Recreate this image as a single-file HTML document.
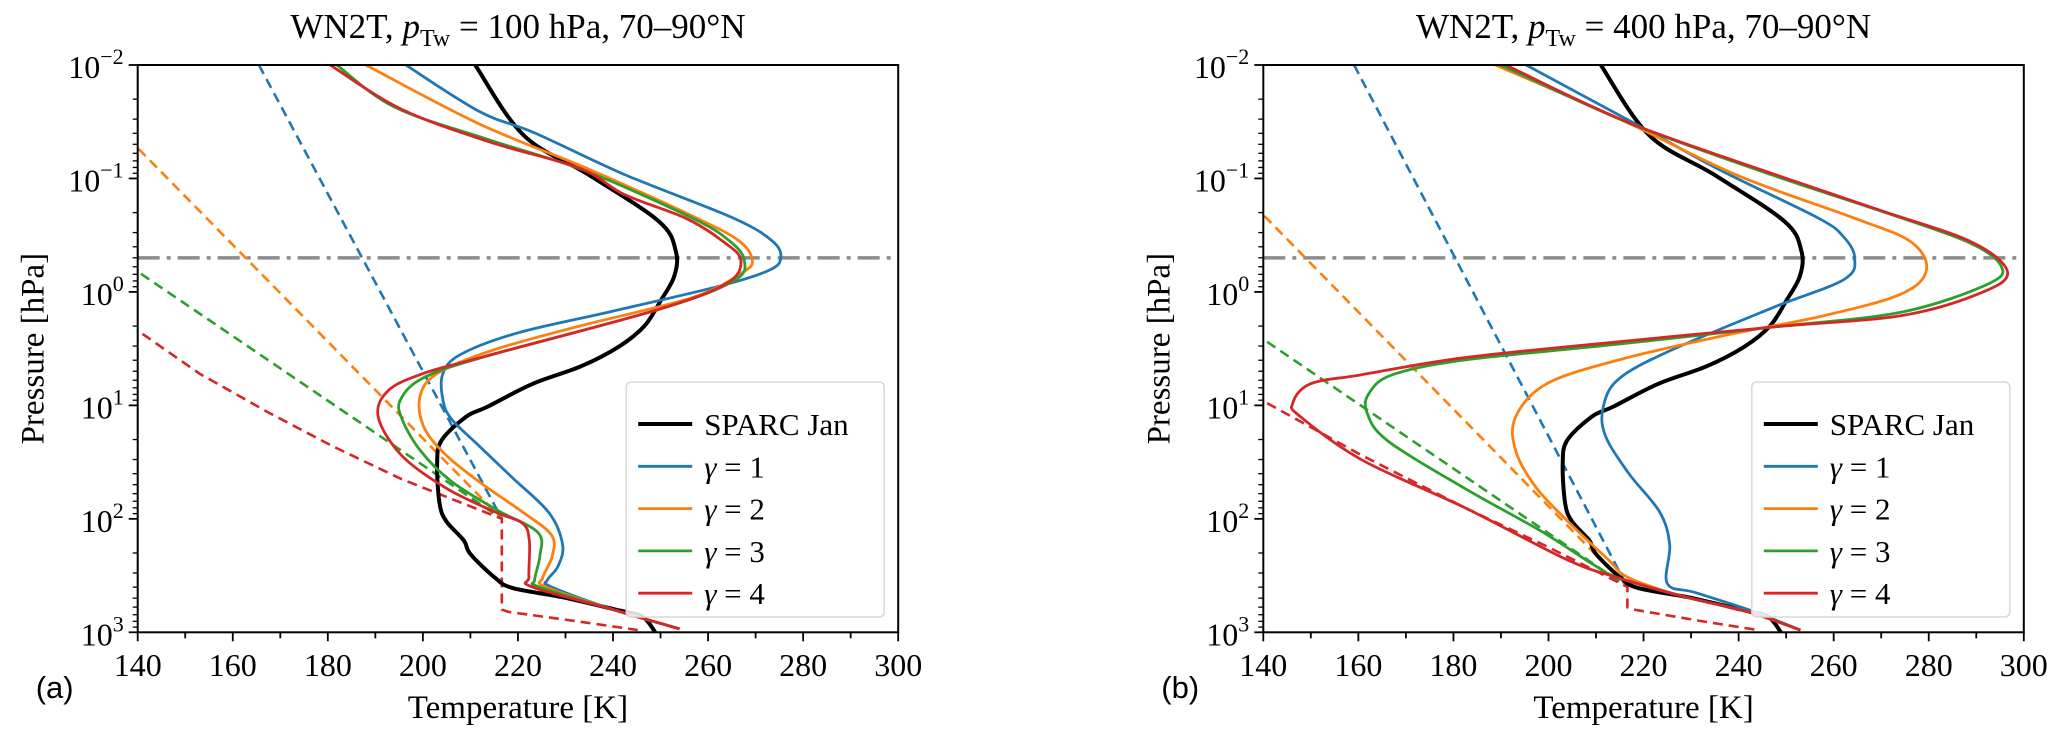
<!DOCTYPE html>
<html><head><meta charset="utf-8"><style>
html,body{margin:0;padding:0;background:#fff;}
svg{display:block;font-family:"Liberation Serif",serif;}
</style></head><body>
<svg id="chart" width="2067" height="743" viewBox="0 0 2067 743" xmlns="http://www.w3.org/2000/svg"></svg>
<script>
// ---- data: [temperature K, log10 pressure hPa] ----
const sparc = [[211,-2],[221.2,-1.38],[235,-1.03],[249.7,-0.62],[253.2,-0.36],[252.9,-0.14],[250,0.08],[246.6,0.3],[241.3,0.48],[233.3,0.655],[223.1,0.81],[213.7,1.01],[209.1,1.1],[203.9,1.31],[203,1.52],[203.5,1.86],[204.9,2.02],[208.6,2.19],[210,2.31],[215.2,2.52],[218.9,2.61],[229.2,2.69],[240.5,2.8],[246.1,2.86],[248.9,3]];
// panel a
const aG1 = [[196.4,-2],[211.9,-1.59],[223.6,-1.4],[242.7,-1.03],[265.1,-0.655],[273.5,-0.45],[275.3,-0.3],[272.8,-0.19],[262.3,-0.05],[239.9,0.17],[220,0.36],[208,0.55],[204.2,0.72],[204.2,0.95],[206,1.12],[211.9,1.36],[218.9,1.64],[226.6,1.95],[229.4,2.23],[228.4,2.42],[226.2,2.54],[227,2.6],[240,2.8],[254,2.97]];
const aG2 = [[188,-2],[211.9,-1.48],[235,-1.08],[257.4,-0.655],[266.5,-0.45],[269.3,-0.28],[267.2,-0.17],[256.7,0.05],[233,0.3],[214.2,0.52],[203,0.72],[199.4,0.92],[200.2,1.19],[204.9,1.44],[212.4,1.69],[220.3,1.92],[227,2.14],[227.2,2.33],[225.2,2.52],[225.8,2.6],[240,2.8],[254,2.97]];
const aG3 = [[181.9,-2],[194,-1.63],[214,-1.34],[234,-1.07],[256.5,-0.655],[264.5,-0.45],[267.6,-0.28],[265.5,-0.1],[250,0.15],[213,0.57],[200,0.76],[195.3,0.95],[195.6,1.12],[199.5,1.4],[206,1.67],[215.5,1.92],[224.2,2.12],[224.6,2.33],[223.5,2.54],[224.5,2.6],[240,2.8],[254,2.97]];
const aG4 = [[180.5,-2],[195.5,-1.61],[214.2,-1.32],[233,-1.09],[242.3,-0.86],[255.3,-0.65],[263,-0.45],[266.9,-0.28],[263.7,-0.07],[248.3,0.17],[212,0.58],[200,0.72],[192.7,0.87],[190.6,1.1],[195.5,1.44],[204.9,1.73],[215.2,1.94],[221,2.04],[222.4,2.2],[222.3,2.51],[223,2.6],[240,2.8],[254,2.97]];
const aD1 = [[165.5,-2],[216.6,2]];
const aD2 = [[140.2,-1.26],[216.6,2]];
const aD3 = [[140.7,-0.16],[216.6,2]];
const aD4 = [[141,0.37],[153,0.72],[167.4,1.06],[181,1.36],[195.5,1.65],[216.6,2],[216.6,2.8],[218,2.82],[232,2.9],[245.2,2.98]];
// panel b
const bG1 = [[195.3,-2],[220.1,-1.44],[236.3,-1.07],[256.8,-0.65],[262.2,-0.48],[264.4,-0.3],[262.2,-0.11],[247.1,0.14],[225.5,0.52],[214.7,0.77],[211.5,1.02],[212,1.27],[216.9,1.6],[223.4,1.94],[225.5,2.23],[225,2.57],[230.9,2.65],[242,2.8],[253,2.98]];
const bG2 = [[188.8,-2],[214.7,-1.53],[239.6,-1.03],[264.4,-0.65],[276.3,-0.44],[279.5,-0.19],[274.1,0.02],[257.9,0.21],[236.3,0.39],[214.7,0.6],[199.6,0.81],[193.1,1.1],[193.1,1.4],[197.5,1.73],[205,2.06],[212.6,2.36],[216.9,2.52],[228,2.68],[242,2.82],[253,2.98]];
const bG3 = [[189.9,-2],[216.9,-1.49],[247.1,-1.03],[268.7,-0.73],[288.2,-0.44],[295.2,-0.23],[292.5,-0.07],[274.1,0.18],[247.1,0.31],[214.7,0.46],[182.3,0.6],[167.2,0.73],[162.3,0.89],[161.8,1.06],[166.1,1.31],[182.3,1.73],[198.5,2.11],[209.3,2.4],[214.7,2.52],[228,2.68],[242,2.82],[253,2.98]];
const bG4 = [[191,-2],[217,-1.49],[248,-1.03],[269,-0.73],[289,-0.44],[296.6,-0.17],[290.3,0.02],[274.1,0.21],[247.1,0.31],[214.7,0.44],[182.3,0.58],[160.7,0.73],[149.9,0.81],[146.2,0.98],[147.8,1.1],[160.7,1.48],[182.3,1.9],[203.9,2.36],[214.7,2.52],[228,2.68],[242,2.82],[253,2.98]];
const bD1 = [[159.1,-2],[216.6,2.6]];
const bD2 = [[140.2,-0.67],[216.6,2.6]];
const bD3 = [[140.8,0.44],[216.6,2.6]];
const bD4 = [[140.8,0.98],[160.7,1.44],[182.3,1.9],[200,2.25],[216.6,2.6],[216.6,2.78],[218,2.8],[232,2.9],[244,2.98]];
const xTicks = [140,160,180,200,220,240,260,280,300];
const yExps = [-2,-1,0,1,2,3];
const legendLabels = ["SPARC Jan","γ = 1","γ = 2","γ = 3","γ = 4"];
const colors = ["#000000","#1f77b4","#ff7f0e","#2ca02c","#d62728"];
const refLevel = -0.3; // log10(0.5 hPa)

const NS="http://www.w3.org/2000/svg";
const svg=document.getElementById('chart');
function mk(tag,attrs,parent){const e=document.createElementNS(NS,tag);for(const k in attrs)e.setAttribute(k,attrs[k]);(parent||svg).appendChild(e);return e;}
function smooth(p){
  let d='M'+p[0][0].toFixed(1)+','+p[0][1].toFixed(1);
  for(let i=0;i<p.length-1;i++){
    const p0=p[i-1]||p[i],p1=p[i],p2=p[i+1],p3=p[i+2]||p2;
    const c1=[p1[0]+(p2[0]-p0[0])/6,p1[1]+(p2[1]-p0[1])/6];
    const c2=[p2[0]-(p3[0]-p1[0])/6,p2[1]-(p3[1]-p1[1])/6];
    d+=' C'+c1[0].toFixed(1)+','+c1[1].toFixed(1)+' '+c2[0].toFixed(1)+','+c2[1].toFixed(1)+' '+p2[0].toFixed(1)+','+p2[1].toFixed(1);
  }
  return d;
}

function panel(x0,title,letter,solids,dashes,pname){
  const y0=65,W=760.5,H=567.3;
  const sx=t=>x0+(t-140)/160*W;
  const sy=l=>y0+(l+2)/5*H;
  const g=mk('g',{});
  
  
  const cid='clip'+pname;
  const cp=mk('clipPath',{id:cid},g);mk('rect',{x:x0,y:y0,width:W,height:H},cp);
  const plot=mk('g',{'clip-path':'url(#'+cid+')'},g);
  const rl=mk('line',{x1:x0,x2:x0+W,y1:sy(refLevel),y2:sy(refLevel),stroke:'#8c8c8c','stroke-width':3.5,'stroke-dasharray':'22,7,4,7'},plot);
  
  
  const P=a=>a.map(p=>[sx(p[0]),sy(p[1])]);
  const pts=a=>P(a).map(p=>p[0].toFixed(1)+','+p[1].toFixed(1)).join(' ');
  dashes.forEach((d,i)=>{const e=mk('polyline',{points:pts(d),fill:'none',stroke:colors[i+1],'stroke-width':2.6,'stroke-dasharray':'10,6'},plot);
    
    });
  const bl=mk('path',{d:smooth(P(sparc)),fill:'none',stroke:'#000','stroke-width':4,'stroke-linejoin':'round'},plot);
  
  
  solids.forEach((d,i)=>{const e=mk('path',{d:smooth(P(d)),fill:'none',stroke:colors[i+1],'stroke-width':2.8,'stroke-linejoin':'round'},plot);
    
    });
  mk('rect',{x:x0,y:y0,width:W,height:H,fill:'none',stroke:'#000','stroke-width':2},g);
  for(let t=140;t<=300;t+=10){const major=xTicks.includes(t);
    mk('line',{x1:sx(t),x2:sx(t),y1:y0+H,y2:y0+H+(major?9:6),stroke:'#000','stroke-width':1.8},g);}
  xTicks.forEach(t=>{const e=mk('text',{x:sx(t),y:676,'text-anchor':'middle','font-size':32},g);e.textContent=t;
    
    });
  yExps.forEach(ex=>{mk('line',{x1:x0-9,x2:x0,y1:sy(ex),y2:sy(ex),stroke:'#000','stroke-width':1.8},g);
    if(ex<3){for(let m=2;m<10;m++){const yy=sy(ex+Math.log10(m));mk('line',{x1:x0-5,x2:x0,y1:yy,y2:yy,stroke:'#000','stroke-width':1.3},g);}}
    const e=mk('text',{x:x0-14,y:sy(ex)+13,'text-anchor':'end','font-size':32},g);
    
    
    const a=mk('tspan',{},e);a.textContent='10';
    const b=mk('tspan',{dy:-14,'font-size':22},e);b.textContent=(ex<0?'−':'')+Math.abs(ex);});
  const xl=mk('text',{x:x0+W/2,y:718,'text-anchor':'middle','font-size':33},g);xl.textContent='Temperature [K]';
  
  
  const yl=mk('text',{x:0,y:0,'text-anchor':'middle','font-size':33,transform:'translate('+(x0-94)+','+(y0+H/2)+') rotate(-90)'},g);yl.textContent='Pressure [hPa]';
  
  
  const tt=mk('text',{x:x0+W/2,y:38,'text-anchor':'middle','font-size':35},g);
  
  
  let s=mk('tspan',{},tt);s.textContent='WN2T, ';
  s=mk('tspan',{'font-style':'italic'},tt);s.textContent='p';
  s=mk('tspan',{dy:8,'font-size':24},tt);s.textContent='Tw';
  s=mk('tspan',{dy:-8},tt);s.textContent=' = '+title+' hPa, 70–90°N';
  const lt=mk('text',{x:x0-102,y:698,'font-family':'Liberation Sans, sans-serif','font-size':31},g);lt.textContent='('+letter+')';
  
  
  const lx=x0+W-272, ly=382;
  const lg=mk('g',{},g);
  
  
  mk('rect',{x:lx,y:ly,width:258,height:235,rx:5,fill:'#fff','fill-opacity':0.85,stroke:'#d8d8d8','stroke-width':1.5},lg);
  legendLabels.forEach((lab,i)=>{const yy=ly+42+i*42.3;
    const en=mk('g',{},lg);
    
    
    mk('line',{x1:lx+12,x2:lx+66,y1:yy,y2:yy,stroke:colors[i],'stroke-width':i==0?4:2.8},en);
    const t=mk('text',{x:lx+78,y:yy+11,'font-size':31},en);
    if(i==0)t.textContent=lab;else{const a=mk('tspan',{'font-style':'italic'},t);a.textContent='γ';const b=mk('tspan',{},t);b.textContent=' = '+(i);}
  });
}
panel(137.7,'100','a',[aG1,aG2,aG3,aG4],[aD1,aD2,aD3,aD4],'panel-a');
panel(1263.3,'400','b',[bG1,bG2,bG3,bG4],[bD1,bD2,bD3,bD4],'panel-b');
</script>
</body></html>
